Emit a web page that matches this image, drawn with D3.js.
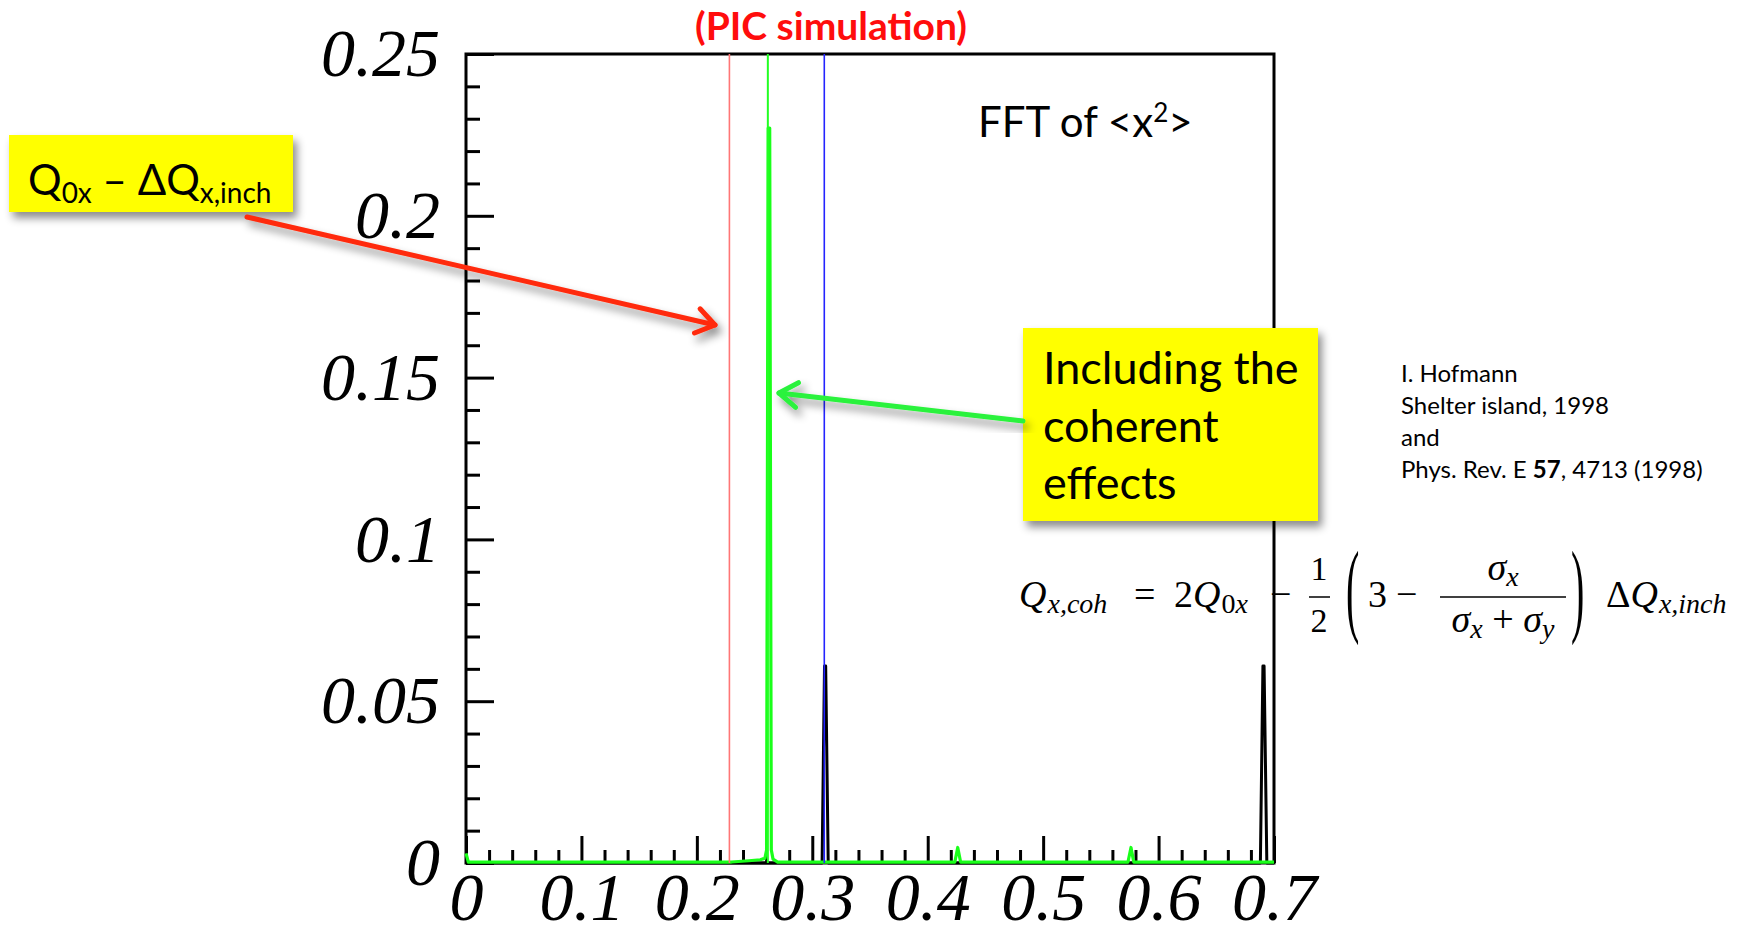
<!DOCTYPE html>
<html>
<head>
<meta charset="utf-8">
<script src="https://cdn.jsdelivr.net/npm/d3@7"></script>
<style>
  body { margin: 0; background: #fff; }
  .eje text { font-family: 'Liberation Serif', 'Times New Roman', serif; font-style: italic; font-size: 68px; fill: #000; }
  .eje line { stroke: #000; stroke-width: 3px; }
  .eje path { display: none; }
  .sans { font-family: Lato, 'Open Sans', sans-serif; }
  .math { font-family: 'Liberation Serif', 'Times New Roman', serif; fill: #000; }
</style>
</head>
<body>
<div id="graf"></div>
<script>
// datos
xTicks = [0, 0.1, 0.2, 0.3, 0.4, 0.5, 0.6, 0.7]
xTickLabels = ['0', '0.1', '0.2', '0.3', '0.4', '0.5', '0.6', '0.7']
xMinor = [0.02, 0.04, 0.06, 0.08, 0.12, 0.14, 0.16, 0.18, 0.22, 0.24, 0.26, 0.28,
          0.32, 0.34, 0.36, 0.38, 0.42, 0.44, 0.46, 0.48, 0.52, 0.54, 0.56, 0.58,
          0.62, 0.64, 0.66, 0.68]
yTicks = [0, 0.05, 0.1, 0.15, 0.2, 0.25]
yTickLabels = ['0', '0.05', '0.1', '0.15', '0.2', '0.25']
yMinor = [0.01, 0.02, 0.03, 0.04, 0.06, 0.07, 0.08, 0.09, 0.11, 0.12, 0.13, 0.14,
          0.16, 0.17, 0.18, 0.19, 0.21, 0.22, 0.23, 0.24]

// espectro sin efectos coherentes (negro)
espectroNegro = [[0, 0], [0.3085, 0], [0.3106, 0.0609], [0.3116, 0.0609], [0.3138, 0],
                 [0.6882, 0], [0.6904, 0.0609], [0.6914, 0.0609], [0.6938, 0], [0.7, 0]]
// espectro PIC (verde)
espectroVerde = [[0, 0.003], [0.002, 0.0003], [0.23, 0.0003], [0.245, 0.0007], [0.255, 0.001],
                 [0.259, 0.0015], [0.2604, 0.004], [0.2618, 0.2271], [0.2631, 0.2271], [0.2645, 0.004],
                 [0.266, 0.0012], [0.27, 0.0003], [0.4235, 0.0003], [0.426, 0.0048],
                 [0.4285, 0.0003], [0.5735, 0.0003], [0.5761, 0.0048], [0.5785, 0.0003], [0.7, 0.0003]]
// lineas verticales de referencia
lineas = [
  { q: 0.2282, color: '#ff7676', ancho: 1.6 },
  { q: 0.2615, color: '#22ff22', ancho: 2 },
  { q: 0.3104, color: '#2424ff', ancho: 1.6 }
]

ancho_total = 1762
alto_total = 936

svg = d3.select('#graf').append('svg')
        .attr('width', ancho_total)
        .attr('height', alto_total)

defs = svg.append('defs')
defs.append('filter')
    .attr('id', 'sombra')
    .attr('x', '-10%').attr('y', '-10%').attr('width', '130%').attr('height', '140%')
  .append('feDropShadow')
    .attr('dx', 4).attr('dy', 6).attr('stdDeviation', 4)
    .attr('flood-color', '#000').attr('flood-opacity', 0.45)

x = d3.scaleLinear().domain([0, 0.7]).range([466, 1274])
y = d3.scaleLinear().domain([0, 0.25]).range([863, 54])

// ejes
svg.append('g').attr('class', 'eje')
   .attr('transform', `translate(${x(0)}, 0)`)
   .call(d3.axisLeft(y).tickValues(yMinor).tickSize(-14).tickSizeOuter(0).tickFormat(''))
svg.append('g').attr('class', 'eje')
   .attr('transform', `translate(${x(0)}, 0)`)
   .call(d3.axisLeft(y).tickValues(yTicks).tickSize(-28).tickSizeOuter(0).tickPadding(26)
           .tickFormat((d, i) => yTickLabels[i]))
svg.append('g').attr('class', 'eje')
   .attr('transform', `translate(0, ${y(0)})`)
   .call(d3.axisBottom(x).tickValues(xMinor).tickSize(-13).tickSizeOuter(0).tickFormat(''))
svg.append('g').attr('class', 'eje')
   .attr('transform', `translate(0, ${y(0)})`)
   .call(d3.axisBottom(x).tickValues(xTicks).tickSize(-27).tickSizeOuter(0).tickPadding(9)
           .tickFormat((d, i) => xTickLabels[i]))

svg.append('rect')
   .attr('x', x(0)).attr('y', y(0.25))
   .attr('width', x(0.7) - x(0)).attr('height', y(0) - y(0.25))
   .attr('fill', 'none').attr('stroke', '#000').attr('stroke-width', 3)

linea = d3.line().x(d => x(d[0])).y(d => y(d[1]))

svg.append('path').datum(espectroNegro)
   .attr('d', linea).attr('fill', 'none')
   .attr('stroke', '#000').attr('stroke-width', 3).attr('stroke-linejoin', 'round')
svg.append('path').datum(espectroVerde)
   .attr('d', linea).attr('fill', 'none')
   .attr('stroke', '#1aff1a').attr('stroke-width', 3.2).attr('stroke-linejoin', 'round')

svg.selectAll('.vline').data(lineas).enter()
   .append('line').attr('class', 'vline')
   .attr('x1', d => x(d.q)).attr('x2', d => x(d.q))
   .attr('y1', y(0.25)).attr('y2', y(0))
   .attr('stroke', d => d.color).attr('stroke-width', d => d.ancho)

// titulo y texto
svg.append('text').attr('class', 'sans')
   .attr('x', 831).attr('y', 40).attr('text-anchor', 'middle')
   .attr('font-size', 39).attr('font-weight', 'bold').attr('fill', '#ff0d0d')
   .text('(PIC simulation)')

fft = svg.append('text').attr('class', 'sans')
   .attr('x', 978).attr('y', 137).attr('font-size', 42)
fft.append('tspan').text('FFT of <x')
fft.append('tspan').attr('font-size', 26).attr('dy', -15).text('2')
fft.append('tspan').attr('dy', 15).text('>')

// flechas
function flecha(x1, y1, x2, y2, color) {
  ang = Math.atan2(y2 - y1, x2 - x1)
  l = 22
  a = 0.6
  g = svg.append('g').attr('filter', 'url(#sombra)')
  g.append('line').attr('x1', x1).attr('y1', y1).attr('x2', x2).attr('y2', y2)
   .attr('stroke', color).attr('stroke-width', 5).attr('stroke-linecap', 'round')
  g.append('path')
   .attr('d', `M${x2 - l * Math.cos(ang - a)},${y2 - l * Math.sin(ang - a)} L${x2},${y2} L${x2 - l * Math.cos(ang + a)},${y2 - l * Math.sin(ang + a)}`)
   .attr('fill', 'none').attr('stroke', color).attr('stroke-width', 5)
   .attr('stroke-linecap', 'round').attr('stroke-linejoin', 'round')
}

// caja 1
svg.append('rect').attr('x', 9).attr('y', 135).attr('width', 284).attr('height', 77)
   .attr('fill', '#ffff00').attr('filter', 'url(#sombra)')
c1 = svg.append('text').attr('class', 'sans').attr('x', 28).attr('y', 195).attr('font-size', 42)
c1.append('tspan').text('Q')
c1.append('tspan').attr('font-size', 28).attr('dy', 8).text('0x')
c1.append('tspan').attr('dy', -8).text(' \u2013 \u0394Q')
c1.append('tspan').attr('font-size', 28).attr('dy', 8).text('x,inch')

flecha(247, 217, 715, 325, '#ff2a0a')

// caja 2
svg.append('rect').attr('x', 1023).attr('y', 328).attr('width', 295).attr('height', 193)
   .attr('fill', '#ffff00').attr('filter', 'url(#sombra)')
lineasCaja = ['Including the', 'coherent', 'effects']
svg.selectAll('.caja2').data(lineasCaja).enter()
   .append('text').attr('class', 'sans caja2')
   .attr('x', 1043).attr('y', (d, i) => 384 + i * 57.5)
   .attr('font-size', 45).text(d => d)

flecha(1023, 421, 779, 393, '#2cf23c')

// referencia
ref = svg.append('g').attr('class', 'sans').attr('font-size', 24)
ref.append('text').attr('x', 1401).attr('y', 382).text('I. Hofmann')
ref.append('text').attr('x', 1401).attr('y', 414).text('Shelter island, 1998')
ref.append('text').attr('x', 1401).attr('y', 446).text('and')
r4 = ref.append('text').attr('x', 1401).attr('y', 478)
r4.append('tspan').text('Phys. Rev. E ')
r4.append('tspan').attr('font-weight', 'bold').text('57')
r4.append('tspan').text(', 4713 (1998)')

// formula
f = svg.append('g').attr('class', 'math')
function pieza(px, py, txt, tam, it, anchor) {
  return f.append('text').attr('x', px).attr('y', py).attr('font-size', tam)
          .attr('font-style', it ? 'italic' : 'normal')
          .attr('text-anchor', anchor || 'start').text(txt)
}
base = 607
s1 = f.append('text').attr('x', 1019).attr('y', base).attr('font-size', 38).attr('font-style', 'italic')
s1.append('tspan').text('Q')
s1.append('tspan').attr('font-size', 28).attr('dy', 6).attr('dx', 1).text('x,coh')
pieza(1134, base, '=', 38, false)
s2 = f.append('text').attr('x', 1174).attr('y', base).attr('font-size', 38)
s2.append('tspan').text('2')
s2.append('tspan').attr('font-style', 'italic').text('Q')
s2.append('tspan').attr('font-size', 28).attr('dy', 6).attr('dx', 1).text('0')
s2.append('tspan').attr('font-size', 28).attr('font-style', 'italic').text('x')
pieza(1270, base, '\u2212', 38, false)
pieza(1319, 580, '1', 34, false, 'middle')
pieza(1319, 632, '2', 34, false, 'middle')
f.append('line').attr('x1', 1309).attr('x2', 1330).attr('y1', 597).attr('y2', 597)
 .attr('stroke', '#000').attr('stroke-width', 1.5)
f.append('g').attr('transform', 'translate(1346, 597) scale(1, 2.6)')
 .append('text').attr('y', 10).attr('font-size', 40).text('(')
pieza(1368, base, '3', 38, false)
pieza(1396, base, '\u2212', 38, false)
num = f.append('text').attr('x', 1503).attr('y', 580).attr('text-anchor', 'middle').attr('font-size', 38).attr('font-style', 'italic')
num.append('tspan').text('\u03c3')
num.append('tspan').attr('font-size', 28).attr('dy', 6).text('x')
f.append('line').attr('x1', 1440).attr('x2', 1566).attr('y1', 597).attr('y2', 597)
 .attr('stroke', '#000').attr('stroke-width', 1.5)
den = f.append('text').attr('x', 1503).attr('y', 632).attr('text-anchor', 'middle').attr('font-size', 38).attr('font-style', 'italic')
den.append('tspan').text('\u03c3')
den.append('tspan').attr('font-size', 28).attr('dy', 6).text('x')
den.append('tspan').attr('dy', -6).attr('font-style', 'normal').text(' + ')
den.append('tspan').text('\u03c3')
den.append('tspan').attr('font-size', 28).attr('dy', 6).text('y')
f.append('g').attr('transform', 'translate(1571, 597) scale(1, 2.6)')
 .append('text').attr('y', 10).attr('font-size', 40).text(')')
s3 = f.append('text').attr('x', 1606).attr('y', base).attr('font-size', 38)
s3.append('tspan').text('\u0394')
s3.append('tspan').attr('font-style', 'italic').text('Q')
s3.append('tspan').attr('font-size', 28).attr('font-style', 'italic').attr('dy', 6).attr('dx', 1).text('x,inch')
</script>
</body>
</html>
